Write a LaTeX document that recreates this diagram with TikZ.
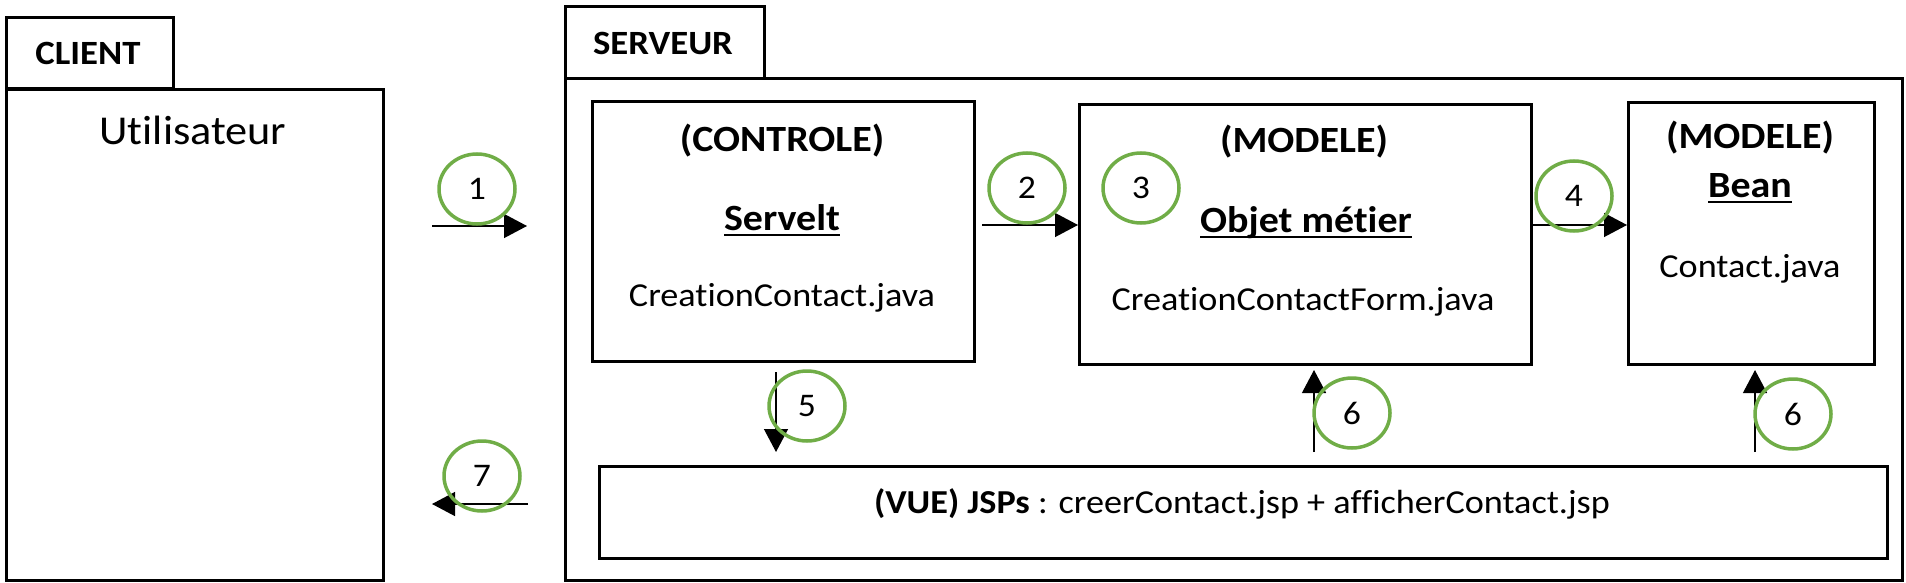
\documentclass[tikz,border=0pt]{standalone}
\usepackage{fontspec}
\setmainfont{Carlito}[FakeStretch=1.08, Ligatures=NoCommon]
\usetikzlibrary{shapes.geometric,arrows.meta}

\newcommand{\souligne}[1]{\setbox0\hbox{#1}\rlap{\raisebox{-6pt}{\rule{\wd0}{1.8pt}}}\box0}

\begin{document}
\begin{tikzpicture}[x=1pt,y=-1pt,
    box/.style={draw, line width=3pt, inner sep=0pt, anchor=north west},
    txt/.style={anchor=base, inner sep=0pt, font=\fontsize{33.5}{40}\selectfont},
    titre/.style={txt, font=\fontsize{37}{44}\selectfont\bfseries},
    onglet/.style={txt, font=\fontsize{34}{41}\selectfont\bfseries},
    etape/.style={ellipse, draw=green-ish, line width=3.5pt, minimum width=76pt, minimum height=70pt, inner sep=0pt, font=\fontsize{33}{40}\selectfont},
    fleche/.style={line width=1.3pt, -{Triangle[length=23pt,width=24pt]}}]

    \definecolor{green-ish}{RGB}{112,173,71}

    \useasboundingbox (0,0) rectangle (1906,583);

    \node [box, minimum width=167, minimum height=71] (clienttab) at (5,16) {};
    \node [box, minimum width=377, minimum height=491] (client) at (5,88) {};
    \node [box, minimum width=199, minimum height=72] (serveurtab) at (564,5) {};
    \node [box, minimum width=1337, minimum height=502] (serveur) at (564,77) {};

    \node [box, minimum width=382, minimum height=260] (controle) at (591,100) {};
    \node [box, minimum width=452, minimum height=260] (modele) at (1078,103) {};
    \node [box, minimum width=246, minimum height=262] (bean) at (1627,101) {};
    \node [box, minimum width=1288, minimum height=92] (vue) at (598,465) {};

    \node [onglet] (clientlbl) at (88,65) {CLIENT};
    \node [txt, font=\fontsize{41}{48}\selectfont] (user) at (193,145) {Utilisateur};
    \node [onglet] (serveurlbl) at (663,55) {SERVEUR};

    \node [titre] (ctrltitle) at (782,151) {(CONTROLE)};
    \node [titre] (servlet) at (782,230) {\souligne{Servelt}};
    \node [txt] (ctrlfile) at (782,306) {CreationContact.java};

    \node [titre] (modtitle) at (1304,153) {(MODELE)};
    \node [titre] (metier) at (1306,232) {\souligne{Objet métier}};
    \node [txt] (modfile) at (1303,310) {CreationContactForm.java};

    \node [titre] (beantitle) at (1750,149) {(MODELE)};
    \node [titre] (beanlbl) at (1750,197) {\souligne{Bean}};
    \node [txt] (beanfile) at (1750,277) {Contact.java};

    \node [txt] (vuelbl) at (1242,513) {\textbf{(VUE) JSPs} : creerContact.jsp + afficherContact.jsp};

    \path (432,226) coordinate (s1) --++ (95,0) coordinate (t1);
    \path (982,225) coordinate (s2);
    \path (1530,225) coordinate (s4);
    \path (776,372) coordinate (s5) --++ (0,80) coordinate (t5);
    \path (1314,452) coordinate (s6) --++ (0,-82) coordinate (t6);
    \path (1755,452) coordinate (s6b) --++ (0,-82) coordinate (t6b);
    \path (528,504) coordinate (s7) --++ (-96,0) coordinate (t7);

    \draw[fleche] (s1) -- (t1);
    \draw[fleche] (s2) -- (s2 -| modele.west);
    \draw[fleche] (s4) -- (s4 -| bean.west);
    \draw[fleche] (s5) -- (t5);
    \draw[fleche] (s6) -- (t6);
    \draw[fleche] (s6b) -- (t6b);
    \draw[fleche] (s7) -- (t7);

    \node [etape] (e1) at (477,189) {1};
    \node [etape] (e2) at (1027,188) {2};
    \node [etape] (e3) at (1141,188) {3};
    \node [etape] (e4) at (1574,196) {4};
    \node [etape] (e5) at (807,406) {5};
    \node [etape] (e6) at (1352,413) {6};
    \node [etape] (e6b) at (1793,414) {6};
    \node [etape] (e7) at (482,476) {7};

\end{tikzpicture}
\end{document}
